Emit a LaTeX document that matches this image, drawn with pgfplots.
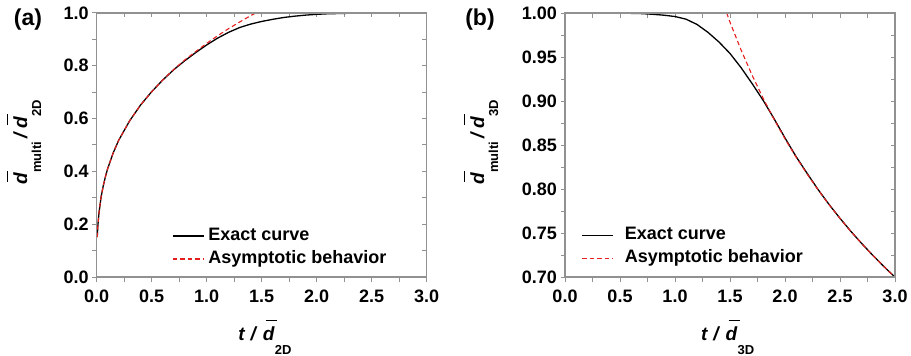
\documentclass[border=0pt]{standalone}
\usepackage{pgfplots}
\pgfplotsset{compat=1.18}
\usepackage{fontspec}
\setmainfont{Liberation Sans}
\definecolor{axgray}{RGB}{145,145,145}
\definecolor{myred}{RGB}{230,30,30}
\newcommand{\fs}{\fontsize{18bp}{20bp}\selectfont\bfseries}
\newcommand{\ls}{\fontsize{19bp}{20bp}\selectfont\bfseries}
\newcommand{\sub}[1]{\raisebox{-14bp}{\fontsize{13bp}{14bp}\selectfont\bfseries\upshape #1}}
\newcommand{\dbar}{\rlap{\hspace{3bp}\rule[19bp]{11bp}{1.3bp}}\textit{d}}
\pgfplotsset{
  base/.style={
    width=330bp, height=264bp, scale only axis,
    xmin=0, xmax=3,
    axis on top,
    axis line style={draw=axgray, line width=1.5bp},
    major tick style={draw=axgray, line width=1bp},
    minor tick style={draw=axgray, line width=1bp},
    major tick length=4.5bp, minor tick length=4.5bp,
    xtick={0,0.5,1,1.5,2,2.5,3},
    minor x tick num=1, minor y tick num=1,
    ticklabel style={font=\fs},
  },
  main/.style={base,
    tick align=outside, xtick pos=left, ytick pos=left,
    xticklabels={0.0,0.5,1.0,1.5,2.0,2.5,3.0},
    xticklabel style={yshift=-5bp},
    legend cell align=left,
    legend image code/.code={\draw[##1, line width=1.2bp] (0bp,0bp) -- (31bp,0bp);},
  },
  mirror/.style={base,
    axis line style={draw=none},
    tick align=inside, xtick pos=right, ytick pos=right,
    xticklabels={}, yticklabels={},
  },
}
\begin{document}
\begin{tikzpicture}
\useasboundingbox (-96.7bp,-79bp) rectangle (814.3bp,277bp);
% ---------- panel (a)
\begin{axis}[mirror, ymin=0, ymax=1, ytick={0,0.2,0.4,0.6,0.8,1}]
\end{axis}
\begin{axis}[main, ymin=0, ymax=1, ytick={0,0.2,0.4,0.6,0.8,1},
  yticklabels={0.0,0.2,0.4,0.6,0.8,1.0},
  xlabel={\ls\textit{t} \textit{/} \dbar\sub{2D}},
  xlabel style={at={(axis description cs:0.51,-0.239)}, anchor=base},
  ylabel={\ls\dbar\sub{multi}\,\textit{/}\,\dbar\sub{2D}},
  ylabel style={at={(axis description cs:-0.211,0.511)}, anchor=base},
  legend style={draw=none, fill=none, at={(axis cs:0.685,0.1886)}, anchor=north west,
    inner sep=0pt, row sep=6bp, column sep=4bp, font=\fs,
    nodes={inner sep=0pt, text height=13bp, text depth=4bp}},
]
\addplot[black, line width=1.3bp] coordinates {
(0.005,0.151) (0.01,0.191) (0.02,0.240) (0.04,0.303) (0.06,0.346) (0.08,0.381)
(0.1,0.411) (0.15,0.470) (0.2,0.518) (0.3,0.592) (0.4,0.652) (0.5,0.702)
(0.6,0.746) (0.7,0.785) (0.8,0.819) (0.9,0.850) (1.0,0.879) (1.1,0.905)
(1.2,0.927) (1.3,0.945) (1.4,0.958) (1.5,0.968) (1.6,0.976) (1.7,0.983)
(1.8,0.988) (1.9,0.992) (2.0,0.995) (2.1,0.997) (2.2,0.998) (2.3,0.999)
(2.4,0.9995) (2.6,1.0) (3.0,1.0)};
\addlegendentry{Exact curve}
\addplot[myred, line width=1.1bp, dash pattern=on 4.5bp off 3bp] coordinates {
(0.005,0.151) (0.01,0.191) (0.02,0.240) (0.04,0.303) (0.06,0.346) (0.08,0.381)
(0.1,0.411) (0.15,0.470) (0.2,0.518) (0.3,0.592) (0.4,0.652) (0.5,0.702)
(0.6,0.746) (0.7,0.786) (0.8,0.822) (0.9,0.854) (1.0,0.885) (1.1,0.914)
(1.2,0.941) (1.3,0.966) (1.4,0.990) (1.445,1.0)};
\addlegendentry{Asymptotic behavior}
\end{axis}
\node[font=\fontsize{23bp}{24bp}\selectfont\bfseries] at (-68.7bp,257.5bp) {(a)};
% ---------- panel (b)
\begin{axis}[mirror, at={(468.3bp,0bp)}, ymin=0.7, ymax=1, ytick={0.7,0.75,0.8,0.85,0.9,0.95,1}]
\end{axis}
\begin{axis}[main, at={(468.3bp,0bp)}, ymin=0.7, ymax=1,
  ytick={0.7,0.75,0.8,0.85,0.9,0.95,1},
  yticklabels={0.70,0.75,0.80,0.85,0.90,0.95,1.00},
  xlabel={\ls\textit{t} \textit{/} \dbar\sub{3D}},
  xlabel style={at={(axis description cs:0.493,-0.239)}, anchor=base},
  ylabel={\ls\dbar\sub{multi}\,\textit{/}\,\dbar\sub{3D}},
  ylabel style={at={(axis description cs:-0.245,0.511)}, anchor=base},
  legend style={draw=none, fill=none, at={(axis cs:0.15,0.7575)}, anchor=north west,
    inner sep=0pt, row sep=6bp, column sep=11bp, font=\fs,
    nodes={inner sep=0pt, text height=13bp, text depth=4bp}},
]
\addplot[black, line width=1.3bp] coordinates {
(0,1.0) (0.3,1.0) (0.5,0.9999) (0.7,0.9993) (0.8,0.9985) (0.9,0.9975) (1.0,0.996)
(1.1,0.993) (1.2,0.987) (1.3,0.978) (1.4,0.967) (1.5,0.954) (1.6,0.938)
(1.7,0.920) (1.8,0.901) (1.9,0.880) (2.0,0.858) (2.1,0.837) (2.2,0.818)
(2.3,0.7995) (2.4,0.7825) (2.5,0.7667) (2.6,0.7517) (2.7,0.7377) (2.8,0.7244)
(2.9,0.7118) (3.0,0.6998)};
\addlegendentry{Exact curve}
\addplot[myred, line width=1.1bp, dash pattern=on 4.5bp off 3bp] coordinates {
(1.47,1.0) (1.5,0.9896) (1.6,0.9582) (1.7,0.9296) (1.8,0.9034) (1.9,0.8793)
(2.0,0.8570) (2.1,0.8364) (2.2,0.8172) (2.3,0.7992) (2.4,0.7823) (2.5,0.7666)
(2.6,0.7516) (2.7,0.7376) (2.8,0.7243) (2.9,0.7117) (3.0,0.6997)};
\addlegendentry{Asymptotic behavior}
\end{axis}
\node[font=\fontsize{23bp}{24bp}\selectfont\bfseries] at (383.3bp,257.5bp) {(b)};
\end{tikzpicture}
\end{document}
